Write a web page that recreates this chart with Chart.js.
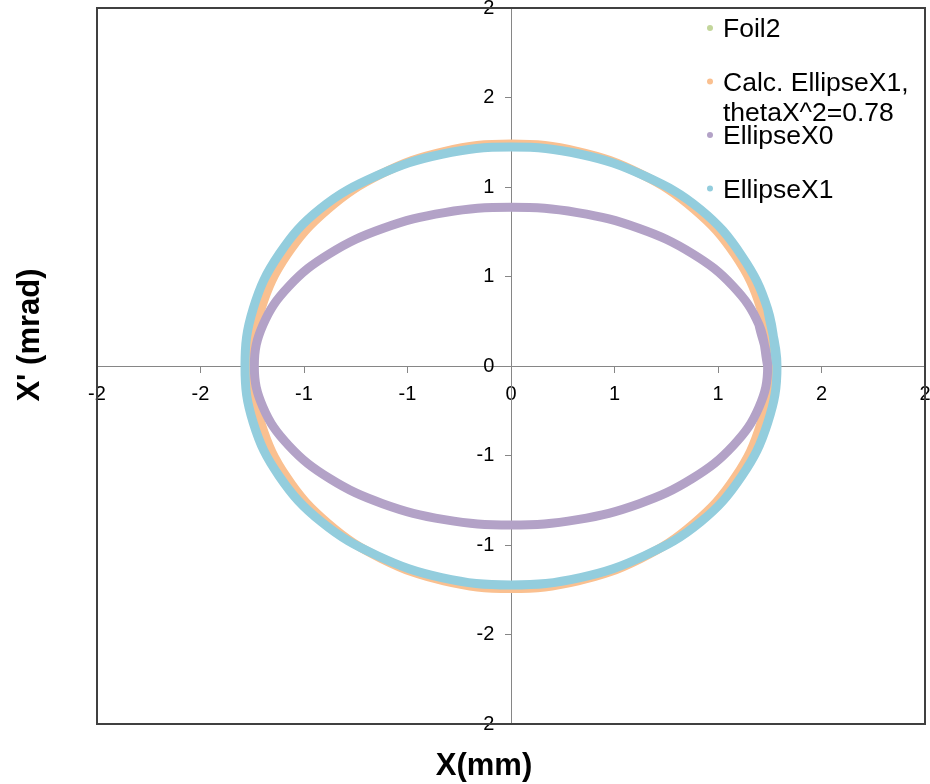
<!DOCTYPE html>
<html>
<head>
<meta charset="utf-8">
<script src="https://cdn.jsdelivr.net/npm/chart.js@4"></script>
<style>
  body { margin: 0; background: #fff; }
  #wrap { width: 930px; height: 784px; position: relative; }
</style>
</head>
<body>
<div id="wrap"><canvas id="chart"></canvas></div>
<script>
// series names (legend order)
const seriesNames = ['Foil2', 'Calc. EllipseX1,\nthetaX^2=0.78', 'EllipseX0', 'EllipseX1'];
const seriesColors = ['#C3D69B', '#FAC090', '#B3A2C7', '#93CDDD'];

// tick labels as shown (Excel rounded the 0.5 steps)
const xTickLabels = ['-2', '-2', '-1', '-1', '0', '1', '1', '2', '2'];
const yTickLabels = ['-2', '-2', '-1', '-1', '0', '1', '1', '2', '2'];

// Foil2 has no visible points
const foil2X = [];
const foil2Y = [];

const calcX = [1.25, 1.207, 1.083, 0.884, 0.625, 0.324, 0, -0.324, -0.625, -0.884, -1.083, -1.207, -1.255,
  -1.207, -1.083, -0.884, -0.625, -0.324, 0, 0.324, 0.625, 0.884, 1.083, 1.207, 1.25, 1.207];
const calcY = [0, 0.321, 0.62, 0.877, 1.074, 1.198, 1.24, 1.198, 1.074, 0.877, 0.62, 0.321, 0,
  -0.322, -0.622, -0.879, -1.076, -1.2, -1.243, -1.2, -1.076, -0.879, -0.622, -0.322, 0, 0.321];

// EllipseX0 (purple)
const x0X = [1.24, 1.198, 1.074, 0.877, 0.62, 0.321, 0, -0.321, -0.62, -0.877, -1.074, -1.198, -1.24,
  -1.198, -1.074, -0.877, -0.62, -0.321, 0, 0.321, 0.62, 0.877, 1.074, 1.198, 1.24, 1.198];
const x0Y = [0, 0.23, 0.444, 0.627, 0.768, 0.857, 0.887, 0.857, 0.768, 0.627, 0.444, 0.23, 0,
  -0.23, -0.444, -0.628, -0.769, -0.858, -0.888, -0.858, -0.769, -0.628, -0.444, -0.23, 0, 0.23];

// EllipseX1 (blue)
const x1X = [1.285, 1.24, 1.115, 0.915, 0.645, 0.335, 0, -0.335, -0.645, -0.92, -1.12, -1.245, -1.285,
  -1.245, -1.12, -0.915, -0.645, -0.335, 0, 0.335, 0.645, 0.915, 1.115, 1.24, 1.285, 1.24];
const x1Y = [0, 0.318, 0.615, 0.875, 1.062, 1.183, 1.223, 1.183, 1.065, 0.88, 0.625, 0.322, 0,
  -0.318, -0.615, -0.872, -1.06, -1.182, -1.223, -1.182, -1.06, -0.872, -0.615, -0.318, 0, 0.318];

function toPoints(xs, ys) {
  return xs.map((x, i) => ({ x: x, y: ys[i] }));
}

const FONT = "'Liberation Sans', Arial, sans-serif";

// plot frame, axis titles and the legend drawn inside the plot
const extras = {
  id: 'extras',
  afterDraw(chart) {
    const ctx = chart.ctx;
    const a = chart.chartArea;
    ctx.save();
    ctx.strokeStyle = '#404040';
    ctx.lineWidth = 2;
    ctx.strokeRect(a.left, a.top, a.right - a.left, a.bottom - a.top);

    ctx.fillStyle = '#000';
    ctx.textAlign = 'center';
    ctx.textBaseline = 'middle';
    ctx.font = 'bold 31px ' + FONT;
    ctx.fillText('X(mm)', (a.left + a.right) / 2 - 27, a.bottom + 42);
    ctx.save();
    ctx.translate(a.left - 67, (a.top + a.bottom) / 2 - 31);
    ctx.rotate(-Math.PI / 2);
    ctx.fillText("X' (mrad)", 0, 0);
    ctx.restore();

    // legend
    ctx.font = '26.5px ' + FONT;
    ctx.textAlign = 'left';
    chart.data.datasets.forEach((ds, i) => {
      const y = a.top + 20 + i * 53.5;
      ctx.fillStyle = ds.borderColor;
      ctx.beginPath();
      ctx.arc(a.right - 215, y, 3, 0, Math.PI * 2);
      ctx.fill();
      ctx.fillStyle = '#000';
      ds.label.split('\n').forEach((line, j) => {
        ctx.fillText(line, a.right - 202, y + 2 + j * 30);
      });
    });
    ctx.restore();
  }
};

function noPad(scale) {
  scale.paddingLeft = 0;
  scale.paddingRight = 0;
  scale.paddingTop = 0;
  scale.paddingBottom = 0;
}

const datasets = [
  { label: seriesNames[0], data: toPoints(foil2X, foil2Y), order: 4 },
  { label: seriesNames[1], data: toPoints(calcX, calcY), order: 3 },
  { label: seriesNames[2], data: toPoints(x0X, x0Y), order: 2 },
  { label: seriesNames[3], data: toPoints(x1X, x1Y), order: 1 }
].map((ds, i) => Object.assign(ds, {
  borderColor: seriesColors[i],
  backgroundColor: seriesColors[i],
  fill: false,
  borderWidth: 9,
  tension: 0.4,
  pointRadius: 0,
  borderCapStyle: 'round',
  borderJoinStyle: 'round'
}));

// line type (not scatter) so the tension smoothing is applied
new Chart(document.getElementById('chart'), {
  type: 'line',
  data: { datasets: datasets },
  options: {
    responsive: true,
    maintainAspectRatio: false,
    animation: false,
    layout: { padding: { left: 97, right: 5, top: 8, bottom: 60 } },
    plugins: {
      legend: { display: false },
      tooltip: { enabled: false }
    },
    scales: {
      x: {
        type: 'linear',
        position: { y: 0 },
        min: -2,
        max: 2,
        afterFit: noPad,
        ticks: {
          stepSize: 0.5,
          autoSkip: false,
          maxRotation: 0,
          padding: 10,
          color: '#000',
          font: { family: FONT, size: 20 },
          callback: (v, i) => xTickLabels[i]
        },
        grid: { drawOnChartArea: false, drawTicks: true, tickLength: 6, color: '#868686' },
        border: { display: true, color: '#868686', width: 1 }
      },
      y: {
        type: 'linear',
        position: { x: 0 },
        min: -2,
        max: 2,
        afterFit: noPad,
        ticks: {
          stepSize: 0.5,
          autoSkip: false,
          color: '#000',
          font: { family: FONT, size: 20 },
          // a centred axis gets no label gap, so pad the right side of the text
          callback: (v, i) => yTickLabels[i] + '   '
        },
        grid: { drawOnChartArea: false, drawTicks: true, tickLength: 6, color: '#868686' },
        border: { display: true, color: '#868686', width: 1 }
      }
    }
  },
  plugins: [extras]
});
</script>
</body>
</html>
